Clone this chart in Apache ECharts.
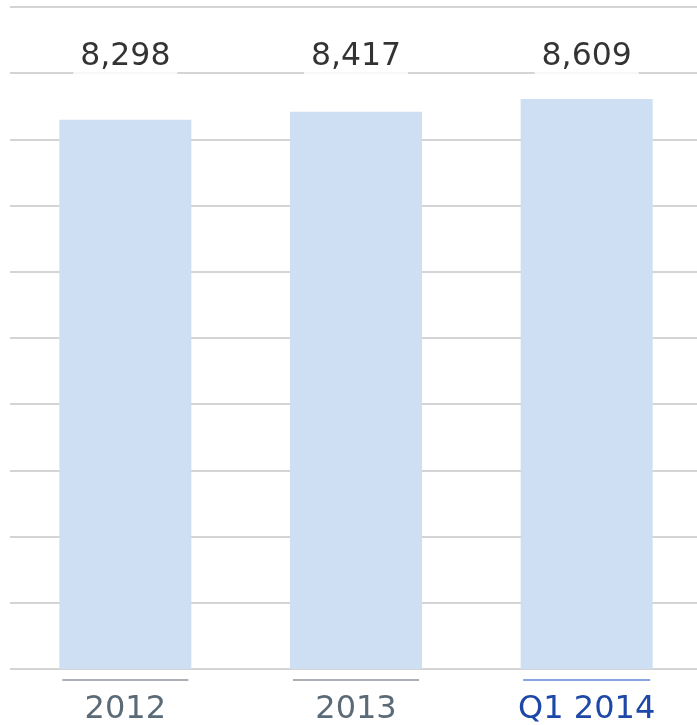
<!DOCTYPE html>
<html>
<head>
<meta charset="utf-8">
<script src="https://cdn.jsdelivr.net/npm/echarts@6/dist/echarts.min.js"></script>
<style>
  html, body { margin: 0; padding: 0; background: #fff; }
  #chart { width: 697px; height: 725px; }
</style>
</head>
<body>
<div id="chart"></div>
<script>
const categories = ['2012', '2013', 'Q1 2014'];
const values = [8298, 8417, 8609];
const highlighted = [false, false, true];
const labelLevel = 9240;

const chart = echarts.init(document.getElementById('chart'), null, { renderer: 'canvas' });

const fmt = v => v.toLocaleString('en-US');

chart.setOption({
  animation: false,
  backgroundColor: '#ffffff',
  grid: { left: 10, width: 692, top: 7, bottom: 56, containLabel: false, outerBoundsMode: 'none' },
  xAxis: {
    type: 'category',
    data: categories,
    axisLine: { show: false },
    axisTick: { show: false },
    axisLabel: {
      margin: 10,
      interval: 0,
      formatter: (v, i) => highlighted[i]
        ? '{lineB|}\n{txtB|' + v + '}'
        : '{lineG|}\n{txtG|' + v + '}',
      rich: {
        lineG: { width: 126, height: 1.5, lineHeight: 2, backgroundColor: '#8e959c' },
        lineB: { width: 127, height: 1.5, lineHeight: 2, backgroundColor: '#5b84d4' },
        txtG: { fontFamily: 'DejaVu Sans', fontSize: 32, color: '#5a6a76', lineHeight: 58 },
        txtB: { fontFamily: 'DejaVu Sans', fontSize: 32, color: '#1d48a8', lineHeight: 58 }
      }
    }
  },
  yAxis: {
    type: 'value',
    min: 0,
    max: 10000,
    interval: 1000,
    axisLine: { show: false },
    axisTick: { show: false },
    axisLabel: { show: false },
    splitLine: { show: true, lineStyle: { color: '#c6c6c6', width: 1.5 } }
  },
  series: [
    {
      type: 'bar',
      data: values,
      barWidth: 132,
      itemStyle: { color: '#cfdff3' },
      z: 2
    },
    {
      type: 'scatter',
      data: categories.map(c => [c, labelLevel]),
      symbolSize: 0,
      silent: true,
      z: 5,
      label: {
        show: true,
        position: 'inside',
        formatter: p => fmt(values[p.dataIndex]),
        fontFamily: 'DejaVu Sans',
        fontSize: 31.5,
        color: '#000000',
        backgroundColor: '#ffffff',
        padding: [4, 7, 4, 7],
        lineHeight: 32
      }
    }
  ]
});
</script>
</body>
</html>
